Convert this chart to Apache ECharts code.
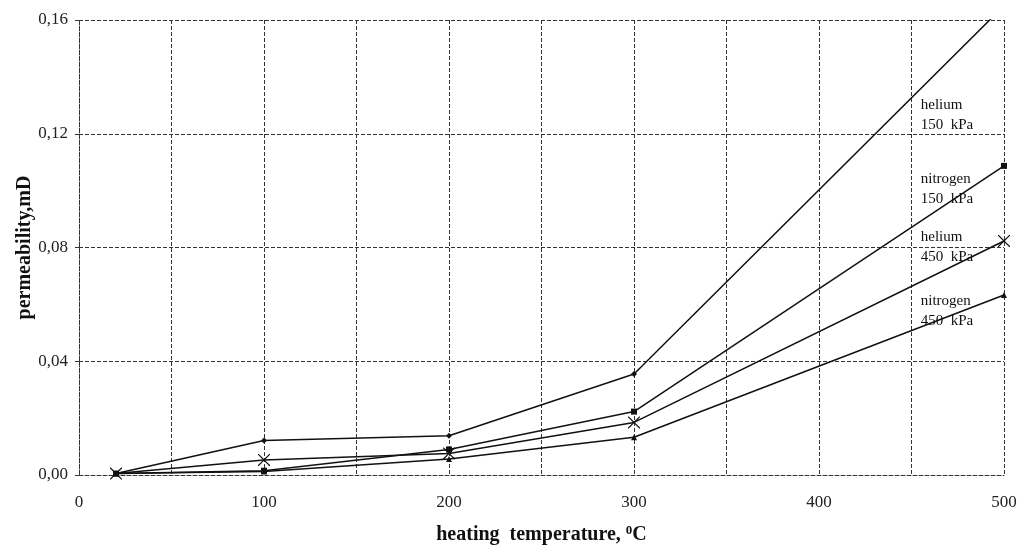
<!DOCTYPE html>
<html lang="en">
<head>
    <meta charset="UTF-8">
    <title>permeability vs heating temperature</title>
    <script src="https://cdn.jsdelivr.net/npm/echarts@6/dist/echarts.min.js"></script>
    <style>
        html, body { margin: 0; padding: 0; background: #fff; }
        #chart { width: 1017px; height: 546px; }
    </style>
</head>
<body>
    <div id="chart"></div>
    <script>
        // data
        const temperatures = [20, 100, 200, 300, 500];
        const helium150 = [0.0005, 0.0121, 0.0138, 0.0355, 0.165];
        const nitrogen150 = [0.0005, 0.0015, 0.0090, 0.0223, 0.1087];
        const helium450 = [0.0005, 0.0053, 0.0076, 0.0185, 0.0823];
        const nitrogen450 = [0.0005, 0.0012, 0.0056, 0.0133, 0.0633];

        const seriesNames = ['helium\n150  kPa', 'nitrogen\n150  kPa', 'helium\n450  kPa', 'nitrogen\n450  kPa'];
        const labelX = 455;
        const labelY = [0.1266, 0.1006, 0.0800, 0.0578];

        const xTicks = [0, 100, 200, 300, 400, 500];

        const serif = 'Liberation Serif, DejaVu Serif, serif';
        const ink = '#111';
        const gridLine = { show: true, lineStyle: { color: '#333', type: [4, 2], width: 1 } };

        const crossPath = 'path://M0,0 L0.7,0 L5,4.3 L9.3,0 L10,0 L10,0.7 L5.7,5 L10,9.3 L10,10 L9.3,10 L5,5.7 L0.7,10 L0,10 L0,9.3 L4.3,5 L0,0.7 Z';

        function makeSeries(values, idx, symbol, size) {
            return {
                type: 'line',
                data: temperatures.map((t, i) => [t, values[i]]),
                symbol: symbol,
                symbolSize: size,
                showAllSymbol: true,
                itemStyle: { color: ink },
                lineStyle: { color: ink, width: 1.5 },
                clip: true,
                markPoint: {
                    symbol: 'circle',
                    symbolSize: 0,
                    silent: true,
                    data: [{ coord: [labelX, labelY[idx]] }],
                    label: {
                        show: true,
                        position: 'right',
                        distance: 0,
                        formatter: seriesNames[idx],
                        color: ink,
                        fontFamily: serif,
                        fontSize: 15,
                        lineHeight: 20,
                        align: 'left'
                    }
                }
            };
        }

        const chart = echarts.init(document.getElementById('chart'));
        chart.setOption({
            animation: false,
            backgroundColor: '#fff',
            grid: { left: 79, right: 13, top: 20, bottom: 71, containLabel: false, outerBoundsMode: 'none' },
            xAxis: {
                type: 'value',
                min: 0,
                max: 500,
                interval: 50,
                name: 'heating  temperature, {sup|0}C',
                nameLocation: 'middle',
                nameGap: 49,
                nameMoveOverlap: false,
                nameTextStyle: {
                    fontFamily: serif, fontSize: 20, fontWeight: 'bold', color: ink,
                    rich: { sup: { fontFamily: serif, fontSize: 13, fontWeight: 'bold', color: ink, verticalAlign: 'top', padding: [0, 0, 9, 0] } }
                },
                axisLine: { show: true, lineStyle: { color: '#333', type: [4, 2] } },
                axisTick: { show: false },
                splitLine: gridLine,
                axisLabel: {
                    margin: 19,
                    fontFamily: serif,
                    fontSize: 17,
                    color: '#222',
                    formatter: v => xTicks.includes(v) ? String(v) : ''
                }
            },
            yAxis: {
                type: 'value',
                min: 0,
                max: 0.16,
                interval: 0.04,
                name: 'permeability,mD',
                nameLocation: 'middle',
                nameGap: 44,
                nameMoveOverlap: false,
                nameTextStyle: { fontFamily: serif, fontSize: 20, fontWeight: 'bold', color: ink },
                axisLine: { show: true, lineStyle: { color: '#333', type: [4, 2] } },
                axisTick: { show: true, length: 4, lineStyle: { color: '#333' } },
                splitLine: gridLine,
                axisLabel: {
                    margin: 11,
                    fontFamily: serif,
                    fontSize: 17,
                    color: '#222',
                    formatter: v => v.toFixed(2).replace('.', ',')
                }
            },
            series: [
                makeSeries(helium150, 0, 'diamond', 6),
                makeSeries(nitrogen150, 1, 'rect', 6),
                makeSeries(helium450, 2, crossPath, 12),
                makeSeries(nitrogen450, 3, 'triangle', 6)
            ]
        });
    </script>
</body>
</html>
